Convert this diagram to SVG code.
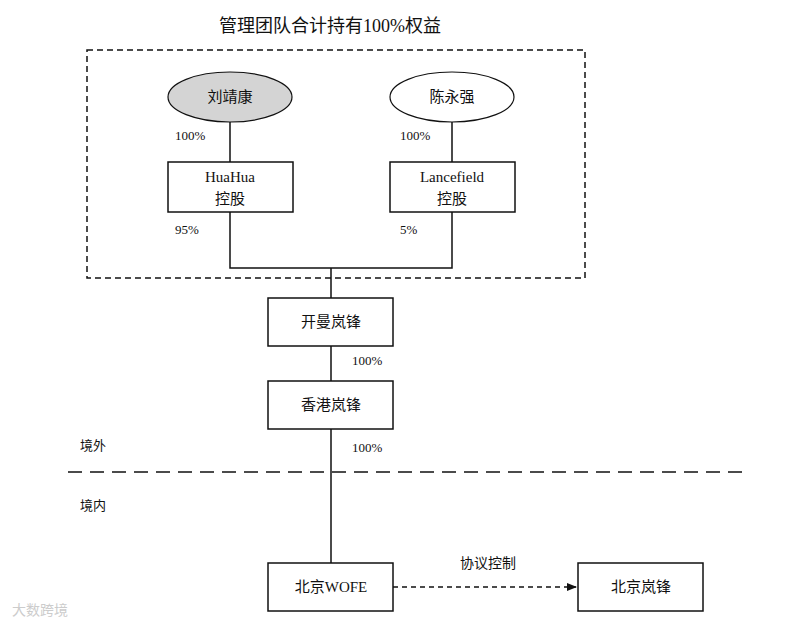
<svg xmlns="http://www.w3.org/2000/svg" width="805" height="626" viewBox="0 0 805 626">
<style>
text{font-family:"Liberation Serif","Noto Sans CJK SC",serif;fill:#111}
.b{fill:#fff;stroke:#111;stroke-width:1.5}
.l{stroke:#111;stroke-width:1.5;fill:none}
.t{font-size:15px;text-anchor:middle}
.s{font-size:13px}
</style>
<defs><marker id="ah" markerWidth="10" markerHeight="8" refX="9" refY="4" orient="auto" markerUnits="userSpaceOnUse"><path d="M0,0 L10,4 L0,8 Z" fill="#111"/></marker></defs>
<rect width="805" height="626" fill="#fff"/>
<text x="330" y="32" font-size="18" text-anchor="middle">管理团队合计持有100%权益</text>
<rect x="87" y="50" width="498" height="228" fill="none" stroke="#111" stroke-width="1.5" stroke-dasharray="6,4"/>
<g id="connectors">
<path class="l" d="M230,122V162M452,122V162M230,212V268H452V212M331,268V298M331,346V381M331,429V563"/>
<path class="l" d="M68,472H745" stroke-dasharray="14,8"/>
<path class="l" d="M393,587H576" stroke-dasharray="5,4" marker-end="url(#ah)"/>
</g>
<g id="n1"><ellipse cx="230" cy="97" rx="62" ry="25" fill="#d4d4d4" stroke="#111" stroke-width="1.2"/><text class="t" x="230" y="102">刘靖康</text></g>
<g id="n2"><ellipse cx="452" cy="97" rx="62" ry="25" fill="#fff" stroke="#111" stroke-width="1.2"/><text class="t" x="452" y="102">陈永强</text></g>
<g id="n3"><rect class="b" x="168" y="162" width="125" height="50"/><text class="t" x="230" y="182">HuaHua</text><text class="t" x="230" y="204">控股</text></g>
<g id="n4"><rect class="b" x="390" y="162" width="125" height="50"/><text class="t" x="452" y="182">Lancefield</text><text class="t" x="452" y="204">控股</text></g>
<g id="n5"><rect class="b" x="268" y="298" width="125" height="48"/><text class="t" x="331" y="327">开曼岚锋</text></g>
<g id="n6"><rect class="b" x="268" y="381" width="125" height="48"/><text class="t" x="331" y="410">香港岚锋</text></g>
<g id="n7"><rect class="b" x="268" y="563" width="125" height="48"/><text class="t" x="331" y="592">北京WOFE</text></g>
<g id="n8"><rect class="b" x="578" y="563" width="125" height="48"/><text class="t" x="641" y="592">北京岚锋</text></g>
<text class="s" x="175" y="140">100%</text>
<text class="s" x="400" y="140">100%</text>
<text class="s" x="175" y="234">95%</text>
<text class="s" x="400" y="234">5%</text>
<text class="s" x="352" y="365">100%</text>
<text class="s" x="352" y="452">100%</text>
<text class="s" x="80" y="450" font-size="14">境外</text>
<text class="s" x="80" y="510" font-size="14">境内</text>
<text x="488" y="568" font-size="14" text-anchor="middle">协议控制</text>
<text x="12" y="615" font-size="14" fill="#bbb" style="fill:#ccc">大数跨境</text>
</svg>
